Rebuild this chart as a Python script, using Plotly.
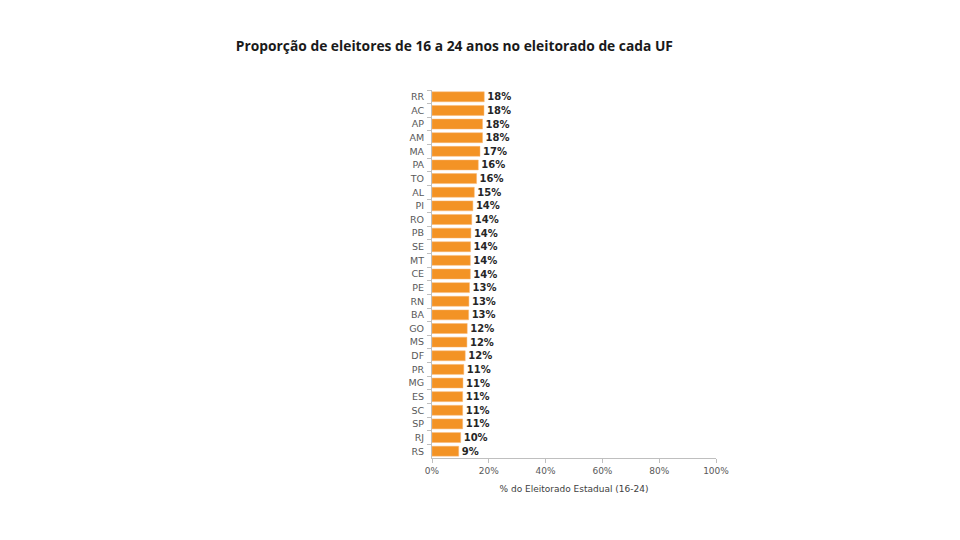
import plotly.graph_objects as go

# UF order as in the chart (top to bottom)
ufs = ['RR', 'AC', 'AP', 'AM', 'MA', 'PA', 'TO', 'AL', 'PI', 'RO', 'PB', 'SE', 'MT', 'CE',
       'PE', 'RN', 'BA', 'GO', 'MS', 'DF', 'PR', 'MG', 'ES', 'SC', 'SP', 'RJ', 'RS']

# share of voters aged 16-24 (fraction)
share = [0.184, 0.183, 0.178, 0.178, 0.169, 0.163, 0.157, 0.149, 0.144, 0.140, 0.137, 0.136, 0.135, 0.135,
         0.132, 0.130, 0.129, 0.124, 0.123, 0.117, 0.112, 0.109, 0.108, 0.108, 0.108, 0.101, 0.094]

# bar labels as printed
labels = ['18%', '18%', '18%', '18%', '17%', '16%', '16%', '15%', '14%', '14%', '14%', '14%', '14%', '14%',
          '13%', '13%', '13%', '12%', '12%', '12%', '11%', '11%', '11%', '11%', '11%', '10%', '9%']

x_ticks = [0, 0.2, 0.4, 0.6, 0.8, 1.0]

fig = go.Figure()
fig.add_trace(go.Bar(
    x=share, y=ufs, orientation='h',
    marker=dict(color='#F39325', line=dict(color='#F8B878', width=0.5)),
    text=labels, textposition='outside', cliponaxis=False, constraintext='none',
    textfont=dict(family='DejaVu Sans', size=10, color='#262626', weight='bold'),
    hoverinfo='skip',
))

# the page body adds 8px on the left and top, so margins are offset by it
fig.update_layout(
    width=960, height=540, autosize=False,
    margin=dict(l=424, r=252, t=82, b=90),
    paper_bgcolor='white', plot_bgcolor='white',
    bargap=0.27, showlegend=False,
    title=dict(text='<b>Proporção de eleitores de 16 a 24 anos no eleitorado de cada UF</b>',
               x=0.465, xanchor='center', y=0.93, yanchor='middle',
               font=dict(family='Open Sans', size=13.8, color='#1a1a1a')),
    font=dict(family='DejaVu Sans', size=9, color='#595959'),
)

fig.update_xaxes(
    range=[0, 1], tickvals=x_ticks, tickformat='.0%',
    showgrid=False, zeroline=False,
    showline=True, linecolor='#bfbfbf', linewidth=1,
    ticks='outside', ticklen=4, tickcolor='#bfbfbf',
    tickfont=dict(family='DejaVu Sans', size=9, color='#595959'),
    title=dict(text='% do Eleitorado Estadual (16-24)',
               font=dict(family='DejaVu Sans', size=9, color='#404040'), standoff=10),
)
fig.update_yaxes(
    autorange='reversed', showgrid=False, zeroline=False,
    showline=True, linecolor='#bfbfbf', linewidth=1,
    ticks='outside', ticklen=4, tickcolor='#bfbfbf', tickson='boundaries',
    ticklabelstandoff=5,
    tickfont=dict(family='DejaVu Sans', size=9.5, color='#595959'),
)

fig.write_html('out.html')
